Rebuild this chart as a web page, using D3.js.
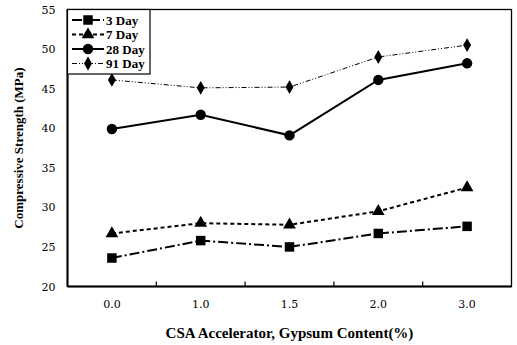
<!DOCTYPE html>
<html>
<head>
<meta charset="utf-8">
<script src="https://cdn.jsdelivr.net/npm/d3@7"></script>
<style>
  html, body { margin: 0; padding: 0; background: #fff; }
  svg { display: block; }
</style>
</head>
<body>
<script>
// Gypsum content categories (x axis)
const categories = ["0.0", "1.0", "1.5", "2.0", "3.0"];
// Compressive strength (MPa) by curing age
const day3  = [23.6, 25.8, 25.0, 26.7, 27.6];
const day7  = [26.7, 28.0, 27.8, 29.5, 32.5];
const day28 = [39.9, 41.7, 39.1, 46.1, 48.2];
const day91 = [46.1, 45.1, 45.2, 49.0, 50.5];
const seriesNames = ["3 Day", "7 Day", "28 Day", "91 Day"];
const yTicks = [20, 25, 30, 35, 40, 45, 50, 55];

const W = 517, H = 345;
const margin = { top: 9.5, right: 5.5, bottom: 58.5, left: 67.5 };

const svg = d3.select("body").append("svg")
  .attr("width", W).attr("height", H)
  .attr("font-family", "Liberation Serif");

const x = d3.scaleBand().domain(categories)
  .range([margin.left, W - margin.right]).paddingInner(0).paddingOuter(0);
const y = d3.scaleLinear().domain([20, 55]).range([H - margin.bottom, margin.top]);
const cx = c => x(c) + x.bandwidth() / 2;

// Series styling
const styles = [
  { values: day3,  symbol: d3.symbolSquare,   size: 90, dash: "10,3,2,3", width: 2 },
  { values: day7,  symbol: d3.symbolTriangle, size: 70, dash: "4,3",      width: 2 },
  { values: day28, symbol: d3.symbolCircle,   size: 85, dash: null,       width: 2 },
  { values: day91, symbol: d3.symbolDiamond,  size: 55, dash: "5,2,1,2,1,2", width: 1 }
];

const x0 = margin.left, x1 = W - margin.right, y0 = margin.top, y1 = H - margin.bottom;

// Axis titles and tick labels first
svg.append("text")
  .attr("x", (x0 + x1) / 2).attr("y", 338)
  .attr("text-anchor", "middle")
  .attr("font-family", "Liberation Serif").attr("font-weight", "bold").attr("font-size", 15)
  .text("CSA Accelerator, Gypsum Content(%)");
svg.append("text")
  .attr("transform", `translate(23,${(y0 + y1) / 2}) rotate(-90)`)
  .attr("text-anchor", "middle")
  .attr("font-family", "Liberation Serif").attr("font-weight", "bold").attr("font-size", 13)
  .text("Compressive Strength (MPa)");

svg.selectAll("text.xt").data(categories).enter().append("text")
  .attr("class", "xt")
  .attr("x", d => cx(d)).attr("y", y1 + 21)
  .attr("text-anchor", "middle")
  .attr("font-family", "DejaVu Serif").attr("font-size", 11)
  .text(d => d);
svg.selectAll("text.yt").data(yTicks).enter().append("text")
  .attr("class", "yt")
  .attr("x", x0 - 12).attr("y", d => y(d) + 4)
  .attr("text-anchor", "end")
  .attr("font-family", "DejaVu Serif").attr("font-size", 11)
  .text(d => d);

// Series lines and markers
const line = d3.line().x((d, i) => cx(categories[i])).y(d => y(d));
const plot = svg.append("g");
styles.forEach(s => {
  plot.append("path")
    .attr("d", line(s.values))
    .attr("fill", "none")
    .attr("stroke", "#000")
    .attr("stroke-width", s.width)
    .attr("stroke-dasharray", s.dash);
  plot.selectAll(null).data(s.values).enter().append("path")
    .attr("d", d3.symbol().type(s.symbol).size(s.size))
    .attr("transform", (d, i) => `translate(${cx(categories[i])},${y(d)})`)
    .attr("fill", "#000");
});

// Frame
svg.append("rect").attr("x", x0).attr("y", y0).attr("width", x1 - x0).attr("height", y1 - y0)
  .attr("fill", "none").attr("stroke", "#000").attr("stroke-width", 1.3);
svg.append("line").attr("x1", x0).attr("x2", x1).attr("y1", y1).attr("y2", y1)
  .attr("stroke", "#000").attr("stroke-width", 2);
svg.append("line").attr("x1", x0).attr("x2", x0).attr("y1", y0).attr("y2", y1)
  .attr("stroke", "#000").attr("stroke-width", 2);
// Inward ticks at category boundaries
categories.slice(1).forEach(c => {
  svg.append("line").attr("x1", x(c)).attr("x2", x(c)).attr("y1", y1).attr("y2", y1 - 5)
    .attr("stroke", "#000").attr("stroke-width", 1.2);
});

// Legend
svg.append("rect").attr("x", x0).attr("y", y0).attr("width", 82.5).attr("height", 64.5)
  .attr("fill", "#fff").attr("stroke", "#000").attr("stroke-width", 1.2);
styles.forEach((s, k) => {
  const ly = y0 + 10.5 + k * 14.5;
  svg.append("line").attr("x1", 72).attr("x2", 104).attr("y1", ly).attr("y2", ly)
    .attr("stroke", "#000").attr("stroke-width", s.width)
    .attr("stroke-dasharray", s.dash);
  svg.append("path")
    .attr("d", d3.symbol().type(s.symbol).size(s.size))
    .attr("transform", `translate(88,${ly})`).attr("fill", "#000");
  svg.append("text")
    .attr("x", 106).attr("y", ly + 4.5)
    .attr("font-family", "Liberation Serif").attr("font-weight", "bold").attr("font-size", 13)
    .text(seriesNames[k]);
});
</script>
</body>
</html>
